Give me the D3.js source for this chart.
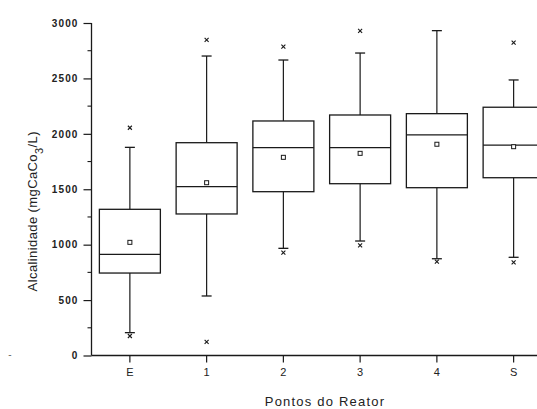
<!DOCTYPE html>
<html>
<head>
<meta charset="utf-8">
<script src="https://cdn.jsdelivr.net/npm/d3@7"></script>
<style>
  body { margin: 0; background: #fff; }
  svg { display: block; font-family: "Liberation Sans", Arial, sans-serif; }
</style>
</head>
<body>
<div id="chart"></div>
<script>
const width = 537
const height = 409
const margin = { top: 23, bottom: 53.5, left: 91.5, right: -15 }

// data
const categories = ["E", "1", "2", "3", "4", "S"]
const q1 = [744, 1277, 1478, 1550, 1514, 1604]
const median = [913, 1523, 1875, 1875, 1990, 1899]
const q3 = [1319, 1920, 2116, 2170, 2182, 2240]
const mean = [1021, 1559, 1788, 1824, 1906, 1884]
const whiskerLow = [206, 537, 967, 1033, 873, 886]
const whiskerHigh = [1878, 2702, 2666, 2729, 2931, 2486]
const outlierLow = [176, 122, 928, 994, 846, 841]
const outlierHigh = [2055, 2847, 2786, 2928, null, 2822]
const yTicks = [0, 500, 1000, 1500, 2000, 2500, 3000]
const yMinor = [250, 750, 1250, 1750, 2250, 2750]

const data = categories.map((c, i) => ({
    cat: c, q1: q1[i], med: median[i], q3: q3[i], mean: mean[i],
    lo: whiskerLow[i], hi: whiskerHigh[i], oLo: outlierLow[i], oHi: outlierHigh[i]
}))

const ink = "#1a1a1a"

const svg = d3.select("div#chart").append("svg").attr("width", width).attr("height", height)

const innerW = width - margin.left - margin.right
const innerH = height - margin.top - margin.bottom

const x = d3.scaleBand().domain(categories).range([0, innerW])
const y = d3.scaleLinear().domain([0, 3000]).range([innerH, 0])

const g = svg.append("g").attr("transform", `translate(${margin.left}, ${margin.top})`)

// y axis
const yAxisGroup = g.append("g")
    .call(d3.axisLeft(y).tickValues(yTicks).tickSize(8).tickPadding(6).tickFormat(d3.format("d")))
yAxisGroup.select(".domain").attr("d", `M0,${innerH}V0`).attr("stroke", ink).attr("stroke-width", 1.3)
yAxisGroup.selectAll(".tick line").attr("stroke", ink).attr("stroke-width", 1.2)
yAxisGroup.selectAll(".tick text").attr("font-size", 10).attr("fill", "#222")
    .attr("letter-spacing", 1.1).attr("font-weight", "bold").attr("dx", 1)
g.append("g").selectAll("line").data(yMinor).join("line")
    .attr("x1", -4).attr("x2", 0).attr("y1", d => y(d)).attr("y2", d => y(d))
    .attr("stroke", ink).attr("stroke-width", 1.1)

// x axis
const xAxisGroup = g.append("g").attr("transform", `translate(0, ${innerH})`)
    .call(d3.axisBottom(x).tickSize(7).tickPadding(6))
xAxisGroup.select(".domain").attr("d", `M0,0H${innerW}`).attr("stroke", ink).attr("stroke-width", 1.3)
xAxisGroup.selectAll(".tick line").attr("stroke", ink).attr("stroke-width", 1.2)
xAxisGroup.selectAll(".tick text").attr("font-size", 11).attr("fill", "#222")

// boxes
const bw = 61
const cap = 5
const boxes = g.append("g").selectAll("g").data(data).join("g")
    .attr("transform", d => `translate(${x(d.cat) + x.bandwidth() / 2}, 0)`)

boxes.append("line").attr("x1", 0).attr("x2", 0)
    .attr("y1", d => y(d.hi)).attr("y2", d => y(d.q3))
    .attr("stroke", ink).attr("stroke-width", 1.2)
boxes.append("line").attr("x1", 0).attr("x2", 0)
    .attr("y1", d => y(d.q1)).attr("y2", d => y(d.lo))
    .attr("stroke", ink).attr("stroke-width", 1.2)
boxes.append("line").attr("x1", -cap).attr("x2", cap)
    .attr("y1", d => y(d.hi)).attr("y2", d => y(d.hi))
    .attr("stroke", ink).attr("stroke-width", 1.3)
boxes.append("line").attr("x1", -cap).attr("x2", cap)
    .attr("y1", d => y(d.lo)).attr("y2", d => y(d.lo))
    .attr("stroke", ink).attr("stroke-width", 1.3)
boxes.append("rect")
    .attr("x", -bw / 2).attr("width", bw)
    .attr("y", d => y(d.q3)).attr("height", d => y(d.q1) - y(d.q3))
    .attr("fill", "none").attr("stroke", ink).attr("stroke-width", 1.3)
boxes.append("line").attr("x1", -bw / 2).attr("x2", bw / 2)
    .attr("y1", d => y(d.med)).attr("y2", d => y(d.med))
    .attr("stroke", ink).attr("stroke-width", 1.3)
boxes.append("rect")
    .attr("x", -2).attr("width", 4)
    .attr("y", d => y(d.mean) - 2).attr("height", 4)
    .attr("fill", "#fff").attr("stroke", ink).attr("stroke-width", 1)

// outlier crosses
const cross = (sel, key) => sel.filter(d => d[key] != null).append("path")
    .attr("d", d => { const c = y(d[key]); return `M-2,${c - 2}L2,${c + 2}M-2,${c + 2}L2,${c - 2}` })
    .attr("stroke", ink).attr("stroke-width", 1.1).attr("fill", "none")
cross(boxes, "oHi")
cross(boxes, "oLo")

// titles
const yTitle = svg.append("text")
    .attr("transform", `translate(37, ${margin.top + innerH / 2 + 22}) rotate(-90)`)
    .attr("text-anchor", "middle").attr("font-size", 13).attr("fill", "#222").attr("letter-spacing", 0.4)
yTitle.append("tspan").text("Alcalinidade (mgCaCo")
yTitle.append("tspan").attr("baseline-shift", "sub").attr("font-size", 11).text("3")
yTitle.append("tspan").text("/L)")

svg.append("text").attr("x", 325).attr("y", 406)
    .attr("text-anchor", "middle").attr("font-size", 13).attr("fill", "#222").attr("letter-spacing", 1.2)
    .text("Pontos do Reator")

svg.append("text").attr("x", 10).attr("y", 358).attr("text-anchor", "middle")
    .attr("font-size", 10).attr("fill", "#666").text("-")
</script>
</body>
</html>
